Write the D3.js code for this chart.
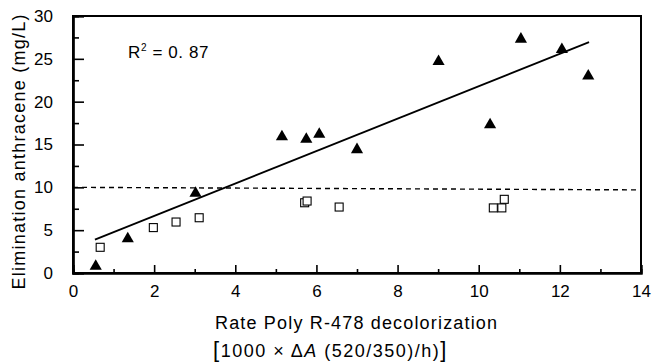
<!DOCTYPE html>
<html>
<head>
<meta charset="utf-8">
<script src="https://d3js.org/d3.v7.min.js"></script>
<style>
  body { margin: 0; background: #fff; }
  text { font-family: "Liberation Sans", Arial, sans-serif; fill: #000; }
</style>
</head>
<body>
<svg id="chart" width="652" height="363"></svg>
<script>
// rate of decolorization vs. anthracene eliminated
var triangles = [
  [0.56, 0.8], [1.35, 4.0], [3.02, 9.3], [5.15, 15.9], [5.75, 15.6],
  [6.07, 16.2], [7.0, 14.4], [9.01, 24.7], [10.28, 17.3], [11.04, 27.3],
  [12.05, 26.1], [12.7, 23.0]
];
var squares = [
  [0.67, 3.0], [1.98, 5.3], [2.54, 5.95], [3.11, 6.45], [5.71, 8.2],
  [5.77, 8.4], [6.56, 7.7], [10.36, 7.6], [10.57, 7.6], [10.63, 8.6]
];
var fitLine = [[0.54, 3.9], [12.72, 26.95]];
var limitLine = [[0, 10], [14, 9.7]];
var xTicks = [0, 2, 4, 6, 8, 10, 12, 14];
var xMinor = [1, 3, 5, 7, 9, 11, 13];
var yTicks = [0, 5, 10, 15, 20, 25, 30];
var yMinor = [2.5, 7.5, 12.5, 17.5, 22.5, 27.5];

var svg = d3.select("#chart");

var x = d3.scaleLinear().domain([0, 14]).range([73, 641]);
var y = d3.scaleLinear().domain([0, 30]).range([273, 16]);

// frame
svg.append("rect")
  .attr("x", x(0)).attr("y", y(30))
  .attr("width", x(14) - x(0)).attr("height", y(0) - y(30))
  .attr("fill", "none").attr("stroke", "#000").attr("stroke-width", 2);

// y axis, ticks point inward
var yAx = svg.append("g").attr("transform", "translate(" + x(0) + ",0)");
yAx.call(d3.axisLeft(y).tickValues(yTicks).tickSize(-11).tickFormat(d3.format("d")));
yAx.append("g").call(d3.axisLeft(y).tickValues(yMinor).tickSize(-6).tickFormat(""));
yAx.selectAll(".tick text").attr("x", -20).attr("text-anchor", "end")
  .style("font-size", "17px").style("font-family", "Liberation Sans, Arial, sans-serif");

// x axis
var xAx = svg.append("g").attr("transform", "translate(0," + y(0) + ")");
xAx.call(d3.axisBottom(x).tickValues(xTicks).tickSize(-8).tickFormat(d3.format("d")));
xAx.append("g").call(d3.axisBottom(x).tickValues(xMinor).tickSize(-4).tickFormat(""));
xAx.selectAll(".tick text").attr("y", 12)
  .style("font-size", "17px").style("font-family", "Liberation Sans, Arial, sans-serif");

svg.selectAll(".domain").attr("stroke-width", 2.2);
svg.selectAll(".tick line").attr("stroke-width", 1.6);

// reference dashed line
var line = d3.line().x(function(d) { return x(d[0]); }).y(function(d) { return y(d[1]); });
svg.append("path").datum(limitLine).attr("d", line)
  .attr("fill", "none").attr("stroke", "#000").attr("stroke-width", 1.4)
  .attr("stroke-dasharray", "5,4");

// regression
svg.append("path").datum(fitLine).attr("d", line)
  .attr("fill", "none").attr("stroke", "#000").attr("stroke-width", 1.8);

// open squares
svg.selectAll(".sq").data(squares).enter().append("rect")
  .attr("class", "sq")
  .attr("x", function(d) { return x(d[0]) - 4; })
  .attr("y", function(d) { return y(d[1]) - 4; })
  .attr("width", 8).attr("height", 8)
  .attr("fill", "#fff").attr("stroke", "#000").attr("stroke-width", 1.1);

// filled triangles
var tri = d3.symbol().type(d3.symbolTriangle).size(64);
svg.selectAll(".tri").data(triangles).enter().append("path")
  .attr("class", "tri")
  .attr("d", tri)
  .attr("transform", function(d) { return "translate(" + x(d[0]) + "," + y(d[1]) + ")"; })
  .attr("fill", "#000");

// R squared
var r2 = svg.append("text").attr("x", 128).attr("y", 58)
  .style("font-size", "17px").style("letter-spacing", "0.6px");
r2.append("tspan").text("R");
r2.append("tspan").attr("dy", -7).style("font-size", "10px").text("2");
r2.append("tspan").attr("dy", 7).text(" = 0. 87");

// axis titles
svg.append("text")
  .attr("transform", "translate(25,152) rotate(-90)")
  .attr("text-anchor", "middle")
  .attr("textLength", 275).attr("lengthAdjust", "spacing")
  .style("font-size", "18px")
  .text("Elimination anthracene  (mg/L)");

svg.append("text").attr("x", 215).attr("y", 329)
  .attr("textLength", 282).attr("lengthAdjust", "spacing")
  .style("font-size", "18px")
  .text("Rate Poly R-478 decolorization");

var sub = svg.append("text").attr("x", 213).attr("y", 357)
  .style("font-size", "18px").style("letter-spacing", "1.5px");
sub.append("tspan").style("font-size", "22px").text("[");
sub.append("tspan").text("1000 \u00d7 \u0394");
sub.append("tspan").style("font-style", "italic").text("A");
sub.append("tspan").text(" (520/350)/h)");
sub.append("tspan").style("font-size", "22px").text("]");
</script>
</body>
</html>
